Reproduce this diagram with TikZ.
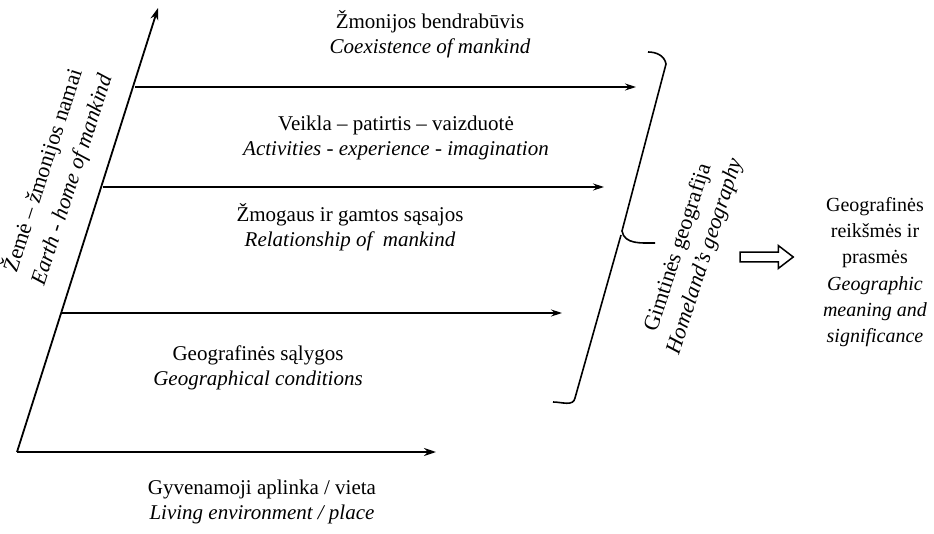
\documentclass[tikz,border=0pt]{standalone}
\usepackage{fontspec}
\setmainfont{Liberation Serif}
\usetikzlibrary{arrows.meta,shapes.arrows}

\tikzset{
  lbl/.style={align=center, inner sep=0pt, font=\fontsize{21}{24.5}\selectfont},
  slanted/.style={align=center, inner sep=0pt, rotate=72},
  axis/.style={line width=1.8pt, -{Stealth[length=12pt,width=8pt]}},
  level/.style={line width=1.1pt, -{Stealth[length=11pt,width=7pt]}},
}

\begin{document}
\begin{tikzpicture}[x=1pt,y=-1pt]
\useasboundingbox (0,0) rectangle (934,534);

% Define nodes
\path (17,452) coordinate (O)
(158,8) coordinate (up)
(436,452) coordinate (right)
(135,87) coordinate (s1) (636,87) coordinate (e1)
(103,187) coordinate (s2) (604,187) coordinate (e2)
(62,313) coordinate (s3) (562,313) coordinate (e3)
;

\node[lbl] (coex) at (430,34) {Žmonijos bendrabūvis\\ \textit{Coexistence of mankind}};
\node[lbl] (activ) at (396,138) {Veikla – patirtis – vaizduotė\\ \textit{Activities - experience - imagination}};
\node[lbl] (relat) at (350,227) {Žmogaus ir gamtos sąsajos\\ \textit{Relationship of\ \ mankind}};
\node[lbl] (cond) at (258,368) {Geografinės sąlygos\\ \textit{Geographical conditions}};
\node[lbl] (living) at (262,502) {Gyvenamoji aplinka / vieta\\ \textit{Living environment / place}};
\node[slanted, font=\fontsize{22}{30}\selectfont] (earth) at (57,175) {Žemė – žmonijos namai\\ \textit{Earth - home of mankind}};
\node[slanted, font=\fontsize{22}{28}\selectfont] (homeland) at (692,252) {Gimtinės geografija\\ \textit{Homeland's geography}};
\node[lbl, font=\fontsize{20}{26.2}\selectfont] (meaning) at (875,272) {Geografinės\\ reikšmės ir\\ prasmės\\ \textit{Geographic}\\ \textit{meaning and}\\ \textit{significance}};
\node[single arrow, draw, line width=1.5pt, minimum height=53pt, minimum width=23pt,
  single arrow head extend=6.5pt, single arrow tip angle=75, inner sep=4.2pt] (hollow) at (763.5,257) {};

% Axes
\draw[axis] (O) -- (up);
\draw[axis] (O) -- (right);

% Levels
\draw[level] (s1) -- (e1);
\draw[level] (s2) -- (e2);
\draw[level] (s3) -- (e3);

% Bracket
\draw[line width=1.6pt] (648,52) to[out=0,in=100] (666,64) -- (622,231) to[out=-80,in=180] (655,243);
\draw[line width=1.6pt] (621,235) -- (575,398) to[out=-100,in=0] (553,402);

\end{tikzpicture}
\end{document}
